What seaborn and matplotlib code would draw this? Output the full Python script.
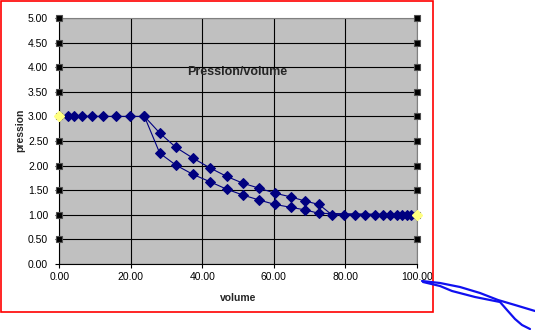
import matplotlib
matplotlib.use("Agg")
import matplotlib.pyplot as plt
import matplotlib.transforms as mtransforms
from matplotlib.lines import Line2D
from matplotlib.patches import Rectangle
import numpy as np
import pandas as pd
import seaborn as sns

# Isotherm at high pressure (plateau), then the two branches, then low plateau
v_high = [0.0, 2.5, 4.2, 6.4, 9.2, 12.3, 15.9, 19.9, 23.8]
p_high = 3.0
v_curve = [28.1, 32.6, 37.4, 42.2, 46.8, 51.4, 55.9, 60.3, 64.9, 68.7, 72.6]
p_upper = [2.66, 2.37, 2.15, 1.95, 1.78, 1.64, 1.54, 1.44, 1.36, 1.28, 1.21]
p_lower = [2.25, 2.01, 1.82, 1.67, 1.52, 1.40, 1.30, 1.21, 1.15, 1.10, 1.03]
v_low = [76.2, 79.6, 82.7, 85.6, 88.2, 90.5, 92.5, 94.4, 95.9, 97.1, 98.2, 100.0]
p_low = 1.0

x_ticks = [0, 20, 40, 60, 80, 100]
y_ticks = [0.0, 0.5, 1.0, 1.5, 2.0, 2.5, 3.0, 3.5, 4.0, 4.5, 5.0]

# closed path: plateau -> upper branch -> low plateau -> lower branch back
vol = v_high + v_curve + v_low + v_curve[::-1] + [v_high[-1]]
pres = ([p_high] * len(v_high) + p_upper + [p_low] * len(v_low)
        + p_lower[::-1] + [p_high])
df = pd.DataFrame({"volume": vol, "pression": pres})

sns.set_theme(style="white")
plt.rcParams["font.family"] = ["Liberation Sans", "DejaVu Sans"]

fig = plt.figure(figsize=(5.35, 3.30), dpi=100)
fig.patch.set_facecolor("white")
W, H = 535, 330
ax = fig.add_axes([59.3 / W, 1 - 264 / H, (417 - 59.3) / W, (264 - 18) / H])
ax.set_facecolor("#C0C0C0")

navy = "#000080"
sns.lineplot(data=df, x="volume", y="pression", sort=False, estimator=None,
             color=navy, linewidth=0.8, marker="D", markersize=5,
             markeredgecolor=navy, markerfacecolor=navy, ax=ax, zorder=3)

ax.set_xlim(0, 100)
ax.set_ylim(0, 5)
ax.set_xticks(x_ticks)
ax.set_yticks(y_ticks)
ax.set_xticklabels([f"{t:.2f}" for t in x_ticks], fontsize=7.5, color="black")
ax.set_yticklabels([f"{t:.2f}" for t in y_ticks], fontsize=7.5, color="black")
ax.tick_params(axis="both", direction="out", length=3, width=0.8,
               color="black", pad=2.5, bottom=True, left=True)
ax.tick_params(axis="y", pad=5)
ax.grid(True, color="black", linewidth=0.8)
ax.set_axisbelow(True)
for side in ("left", "bottom"):
    ax.spines[side].set_color("black")
    ax.spines[side].set_linewidth(0.8)
for side in ("top", "right"):
    ax.spines[side].set_color("#808080")
    ax.spines[side].set_linewidth(0.8)

ax.set_xlabel("volume", fontsize=7.5, fontweight="bold", labelpad=8)
ax.set_ylabel("pression", fontsize=7.5, fontweight="bold")
ax.yaxis.set_label_coords(-0.095, 0.545)
ax.text(0.497, 0.78, "Pression/volume", transform=ax.transAxes,
        ha="center", va="center", fontsize=9, fontweight="bold")

# selection handles on the gridlines, both edges of the plot area
trans = mtransforms.blended_transform_factory(ax.transAxes, ax.transData)
for xe in (0, 1):
    ax.plot([xe] * 10, y_ticks[1:], transform=trans, linestyle="none",
            marker="s", markersize=5, markerfacecolor="black",
            markeredgecolor="#505050", markeredgewidth=0.8,
            clip_on=False, zorder=4)

# selected end points of the series
ax.plot([0, 100], [p_high, p_low], linestyle="none", marker="D",
        markersize=5.5, markerfacecolor="#FFFF80", markeredgecolor="#FFFF80",
        clip_on=False, zorder=5)

# chart border
fig.patches.append(Rectangle((0.5 / W, 1 - 312 / H), 432 / W, 311.5 / H,
                             transform=fig.transFigure, fill=False,
                             edgecolor="red", linewidth=1.2))

# pen stroke in the corner
def px(pts):
    a = np.array(pts, dtype=float)
    return a[:, 0] / W, 1 - a[:, 1] / H

s1 = [(422, 281), (440, 283), (460, 287), (480, 293), (498, 300),
      (515, 305), (535, 311)]
s2 = [(423, 282), (440, 286), (452, 291), (475, 297), (500, 302),
      (507, 310), (515, 319), (522, 325), (530, 329)]
for s in (s1, s2):
    xs, ys = px(s)
    fig.lines.append(Line2D(xs, ys, transform=fig.transFigure,
                            color="#1010F0", linewidth=1.6,
                            solid_capstyle="round"))

fig.savefig("out.png", dpi=100, facecolor="white")
